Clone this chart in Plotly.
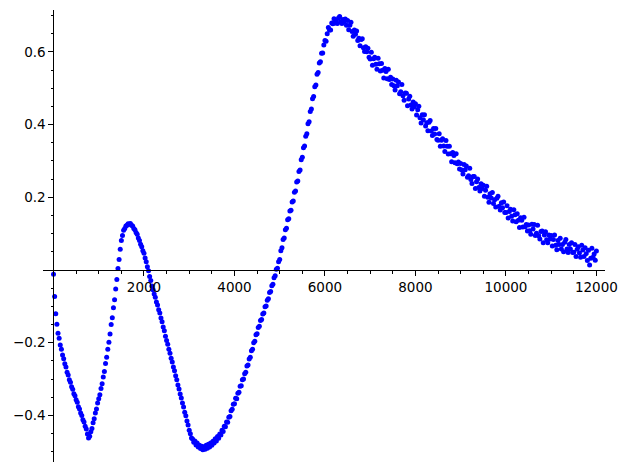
import plotly.graph_objects as go

# sample positions (every 25 units from 0 to 12000)
x_vals = list(range(0, 12001, 25))

# values
y_vals = [
    -0.012, -0.073, -0.120, -0.149, -0.174, -0.188, -0.206, -0.218, -0.234, -0.244,
    -0.258, -0.267, -0.281, -0.289, -0.302, -0.309, -0.321, -0.328, -0.340, -0.346,
    -0.357, -0.364, -0.376, -0.382, -0.393, -0.400, -0.412, -0.418, -0.430, -0.437,
    -0.451, -0.462, -0.457, -0.445, -0.436, -0.420, -0.409, -0.393, -0.382, -0.366,
    -0.354, -0.343, -0.326, -0.313, -0.294, -0.279, -0.257, -0.240, -0.218, -0.199,
    -0.176, -0.150, -0.131, -0.104, -0.082, -0.052, -0.026, 0.004, 0.029, 0.057,
    0.081, 0.095, 0.109, 0.114, 0.121, 0.123, 0.127, 0.126, 0.128, 0.123,
    0.121, 0.114, 0.111, 0.103, 0.098, 0.088, 0.081, 0.071, 0.064, 0.053,
    0.046, 0.033, 0.023, 0.009, -0.002, -0.018, -0.029, -0.044, -0.054, -0.066,
    -0.075, -0.088, -0.096, -0.109, -0.118, -0.132, -0.142, -0.157, -0.167, -0.182,
    -0.194, -0.204, -0.218, -0.229, -0.243, -0.253, -0.267, -0.277, -0.291, -0.302,
    -0.316, -0.327, -0.341, -0.352, -0.366, -0.377, -0.391, -0.401, -0.415, -0.426,
    -0.441, -0.450, -0.462, -0.465, -0.474, -0.470, -0.481, -0.476, -0.487, -0.482,
    -0.491, -0.485, -0.494, -0.486, -0.493, -0.482, -0.490, -0.479, -0.487, -0.476,
    -0.482, -0.471, -0.476, -0.464, -0.470, -0.458, -0.463, -0.451, -0.454, -0.441,
    -0.444, -0.430, -0.431, -0.418, -0.419, -0.405, -0.403, -0.387, -0.383, -0.369,
    -0.368, -0.353, -0.354, -0.339, -0.336, -0.320, -0.318, -0.302, -0.300, -0.285,
    -0.281, -0.264, -0.261, -0.245, -0.240, -0.222, -0.218, -0.200, -0.196, -0.178,
    -0.175, -0.158, -0.155, -0.139, -0.136, -0.121, -0.118, -0.101, -0.099, -0.083,
    -0.079, -0.062, -0.059, -0.043, -0.039, -0.021, -0.016, 0.002, 0.005, 0.023,
    0.029, 0.053, 0.061, 0.084, 0.088, 0.111, 0.115, 0.138, 0.141, 0.162,
    0.164, 0.187, 0.190, 0.214, 0.217, 0.242, 0.245, 0.271, 0.275, 0.303,
    0.310, 0.336, 0.341, 0.368, 0.375, 0.402, 0.408, 0.436, 0.443, 0.471,
    0.477, 0.504, 0.509, 0.538, 0.543, 0.569, 0.573, 0.596, 0.597, 0.619,
    0.631, 0.629, 0.650, 0.667, 0.660, 0.660, 0.679, 0.677, 0.691, 0.679,
    0.687, 0.678, 0.693, 0.697, 0.683, 0.678, 0.689, 0.682, 0.690, 0.673,
    0.686, 0.661, 0.673, 0.681, 0.656, 0.643, 0.660, 0.648, 0.657, 0.631,
    0.637, 0.617, 0.634, 0.636, 0.611, 0.601, 0.614, 0.600, 0.610, 0.585,
    0.580, 0.599, 0.563, 0.581, 0.585, 0.566, 0.552, 0.582, 0.567, 0.547,
    0.568, 0.549, 0.528, 0.554, 0.546, 0.526, 0.552, 0.524, 0.530, 0.510,
    0.525, 0.507, 0.495, 0.522, 0.507, 0.517, 0.485, 0.490, 0.510, 0.479,
    0.467, 0.487, 0.486, 0.452, 0.470, 0.478, 0.454, 0.443, 0.462, 0.449,
    0.457, 0.426, 0.441, 0.450, 0.419, 0.404, 0.427, 0.413, 0.427, 0.396,
    0.405, 0.383, 0.406, 0.411, 0.382, 0.370, 0.389, 0.374, 0.389, 0.359,
    0.357, 0.375, 0.340, 0.357, 0.361, 0.341, 0.326, 0.356, 0.340, 0.319,
    0.340, 0.320, 0.298, 0.323, 0.315, 0.295, 0.320, 0.292, 0.297, 0.278,
    0.293, 0.275, 0.264, 0.290, 0.276, 0.286, 0.255, 0.259, 0.280, 0.249,
    0.238, 0.257, 0.257, 0.224, 0.243, 0.250, 0.227, 0.217, 0.237, 0.224,
    0.233, 0.203, 0.219, 0.230, 0.200, 0.186, 0.210, 0.198, 0.213, 0.183,
    0.193, 0.173, 0.197, 0.203, 0.175, 0.165, 0.185, 0.171, 0.187, 0.158,
    0.158, 0.177, 0.143, 0.161, 0.167, 0.148, 0.135, 0.166, 0.152, 0.133,
    0.155, 0.137, 0.117, 0.144, 0.137, 0.118, 0.145, 0.119, 0.125, 0.107,
    0.124, 0.108, 0.098, 0.126, 0.113, 0.125, 0.095, 0.101, 0.123, 0.094,
    0.085, 0.106, 0.107, 0.075, 0.096, 0.105, 0.083, 0.075, 0.096, 0.085,
    0.095, 0.066, 0.084, 0.096, 0.068, 0.056, 0.081, 0.070, 0.087, 0.058,
    0.070, 0.050, 0.076, 0.084, 0.058, 0.048, 0.070, 0.058, 0.075, 0.048,
    0.049, 0.070, 0.037, 0.057, 0.064, 0.047, 0.035, 0.068, 0.055, 0.037,
    0.061, 0.045, 0.026, 0.054, 0.014, 0.032, 0.060, 0.035, 0.044, 0.027,
    0.052,
]

x_ticks = [2000, 4000, 6000, 8000, 10000, 12000]
x_tick_text = ["2000", "4000", "6000", "8000", "10000", "12000"]
y_ticks = [-0.4, -0.2, 0.2, 0.4, 0.6]
y_tick_text = ["\u22120.4", "\u22120.2", "0.2", "0.4", "0.6"]

x_range = [-232, 12190]
y_range = [-0.528, 0.715]

fig = go.Figure(
    go.Scatter(
        x=x_vals, y=y_vals, mode="markers",
        marker=dict(color="#0000ff", size=5, line=dict(width=0)),
        hoverinfo="skip",
    )
)

# axes cross at the origin, like a sage/matplotlib plot
x_pos = (0 - y_range[0]) / (y_range[1] - y_range[0])
y_pos = (0 - x_range[0]) / (x_range[1] - x_range[0])

# the page body adds an 8px offset, so margins are trimmed on the left/top
fig.update_layout(
    width=627, height=470,
    margin=dict(l=35, r=30, t=2, b=16),
    paper_bgcolor="white", plot_bgcolor="white",
    showlegend=False,
    font=dict(family="DejaVu Sans", size=13.5, color="black"),
    xaxis=dict(
        range=x_range, anchor="free", position=x_pos, automargin=False,
        showgrid=False, zeroline=False,
        showline=True, linecolor="black", linewidth=1.2,
        tickmode="array", tickvals=x_ticks, ticktext=x_tick_text,
        ticks="outside", ticklen=5, tickwidth=1, tickcolor="black",
        minor=dict(tickmode="linear", tick0=0, dtick=500, ticks="outside",
                   ticklen=2.5, tickwidth=0.8, tickcolor="black"),
    ),
    yaxis=dict(
        range=y_range, anchor="free", position=y_pos, automargin=False,
        showgrid=False, zeroline=False,
        showline=True, linecolor="black", linewidth=1.2,
        tickmode="array", tickvals=y_ticks, ticktext=y_tick_text,
        ticks="outside", ticklen=5, tickwidth=1, tickcolor="black",
        minor=dict(tickmode="linear", tick0=0, dtick=0.05, ticks="outside",
                   ticklen=2.5, tickwidth=0.8, tickcolor="black"),
    ),
)

fig.write_html("out.html")
